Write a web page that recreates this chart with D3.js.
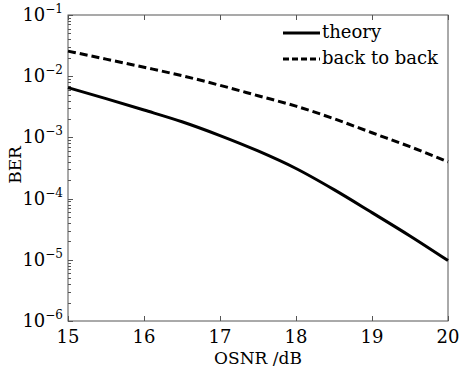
<!DOCTYPE html>
<html>
<head>
<meta charset="utf-8">
<script src="https://cdn.jsdelivr.net/npm/d3@7"></script>
<style>
  body { margin: 0; background: #fff; }
  svg { display: block; font-family: "DejaVu Serif", "Liberation Serif", serif; }
</style>
</head>
<body>
<svg id="chart" width="460" height="373"></svg>
<script>
// OSNR (dB) sample points
var osnr = [15, 15.5, 16, 16.5, 17, 17.5, 18, 18.5, 19, 19.5, 20];
// BER values
var theory = [6.5e-3, 4.3e-3, 2.8e-3, 1.8e-3, 1.07e-3, 6.0e-4, 3.1e-4, 1.4e-4, 5.9e-5, 2.45e-5, 9.7e-6];
var backToBack = [2.57e-2, 1.9e-2, 1.4e-2, 1.02e-2, 7.1e-3, 4.8e-3, 3.24e-3, 2.02e-3, 1.19e-3, 7.05e-4, 4.0e-4];
var xTicks = [15, 16, 17, 18, 19, 20];
var yExps = [-1, -2, -3, -4, -5, -6];
var legendNames = ['theory', 'back to back'];

const svg = d3.select('#chart');
const plotL = 68, plotR = 448, plotT = 15, plotB = 321;

const xScale = d3.scaleLinear().domain([15, 20]).range([plotL, plotR]);
const yScale = d3.scaleLog().domain([1e-6, 1e-1]).range([plotB, plotT]);

// minor log ticks
var minor = [];
yExps.forEach(function (e) {
    if (e === -1) return;
    for (var k = 2; k <= 9; k++) minor.push(k * Math.pow(10, e));
});

const axisColor = '#555';

// frame
svg.append('rect')
    .attr('x', plotL).attr('y', plotT)
    .attr('width', plotR - plotL).attr('height', plotB - plotT)
    .attr('fill', 'none').attr('stroke', axisColor).attr('stroke-width', 1);

// x ticks (bottom + top, inward)
xTicks.forEach(function (t) {
    var x = Math.round(xScale(t)) + 0.5;
    svg.append('line').attr('x1', x).attr('x2', x).attr('y1', plotB).attr('y2', plotB - 5)
        .attr('stroke', axisColor);
    svg.append('line').attr('x1', x).attr('x2', x).attr('y1', plotT).attr('y2', plotT + 5)
        .attr('stroke', axisColor);
    svg.append('text')
        .attr('x', xScale(t)).attr('y', 343)
        .attr('text-anchor', 'middle')
        .attr('font-size', 18)
        .text(t);
});

// y ticks
yExps.forEach(function (e) {
    var y = Math.round(yScale(Math.pow(10, e))) + 0.5;
    svg.append('line').attr('x1', plotL).attr('x2', plotL + 5).attr('y1', y).attr('y2', y)
        .attr('stroke', axisColor);
    var lbl = svg.append('text')
        .attr('x', 63).attr('y', yScale(Math.pow(10, e)) + 6)
        .attr('text-anchor', 'end')
        .attr('font-size', 18);
    lbl.append('tspan').text('10');
    lbl.append('tspan').attr('dy', -8).attr('font-size', 12).text('\u2212' + (-e));
});
minor.forEach(function (v) {
    var y = Math.round(yScale(v)) + 0.5;
    svg.append('line').attr('x1', plotL).attr('x2', plotL + 3).attr('y1', y).attr('y2', y)
        .attr('stroke', axisColor);
});

// curves
const line = d3.line()
    .x(function (d) { return xScale(d[0]); })
    .y(function (d) { return yScale(d[1]); })
    .curve(d3.curveMonotoneX);

svg.append('path')
    .datum(d3.zip(osnr, theory))
    .attr('d', line)
    .attr('fill', 'none').attr('stroke', '#000').attr('stroke-width', 3);

svg.append('path')
    .datum(d3.zip(osnr, backToBack))
    .attr('d', line)
    .attr('fill', 'none').attr('stroke', '#000').attr('stroke-width', 3)
    .attr('stroke-dasharray', '8,4');

// legend
const legend = svg.append('g');
legendNames.forEach(function (name, i) {
    var y = 33 + i * 26;
    legend.append('line')
        .attr('x1', 283).attr('x2', 320).attr('y1', y).attr('y2', y)
        .attr('stroke', '#000').attr('stroke-width', 3)
        .attr('stroke-dasharray', i === 1 ? '6,3' : null);
    legend.append('text')
        .attr('x', 322).attr('y', y + 5)
        .attr('font-size', 18)
        .text(name);
});

// axis labels
svg.append('text')
    .attr('x', (plotL + plotR) / 2).attr('y', 364)
    .attr('text-anchor', 'middle')
    .attr('font-size', 17)
    .text('OSNR /dB');

svg.append('text')
    .attr('transform', 'translate(21,' + 165 + ') rotate(-90)')
    .attr('text-anchor', 'middle')
    .attr('font-size', 17)
    .text('BER');
</script>
</body>
</html>
